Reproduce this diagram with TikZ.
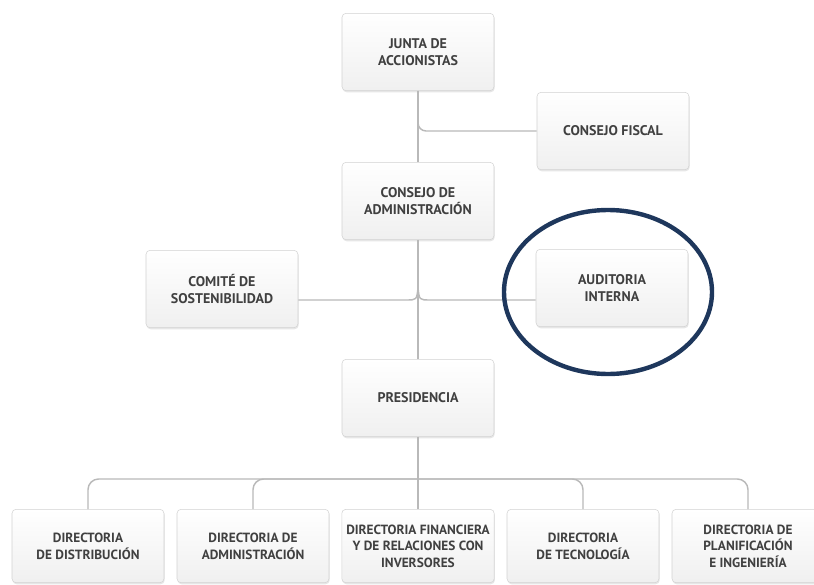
\documentclass[tikz,border=0pt]{standalone}
\usepackage{fontspec}
\setmainfont{PT Sans}
\usetikzlibrary{shadows}
\definecolor{marco}{RGB}{30,55,92}
\tikzset{
  caja/.style={rounded corners=3pt, draw=gray!35, top color=white, bottom color=gray!12,
    drop shadow={opacity=0.2, shadow xshift=0.5pt, shadow yshift=-1.2pt},
    minimum width=114pt, minimum height=58pt, align=center,
    font=\bfseries\fontsize{10.5}{12.5}\selectfont, text=black!75},
  enlace/.style={draw=gray!55, line width=1.1pt},
}
\begin{document}
\begin{tikzpicture}[x=0.75pt, y=-0.75pt]
  \useasboundingbox (0,0) rectangle (814,585);
  % niveles superiores
  \node[caja] (junta) at (418,52) {JUNTA DE\\ACCIONISTAS};
  \node[caja] (fiscal) at (613,131) {CONSEJO FISCAL};
  \node[caja] (cadmin) at (418,201) {CONSEJO DE\\ADMINISTRACIÓN};
  \node[caja] (comite) at (222,289) {COMITÉ DE\\SOSTENIBILIDAD};
  \node[caja] (audit) at (612,288) {AUDITORIA\\INTERNA};
  \node[caja] (presi) at (418,398) {PRESIDENCIA};
  % direcciones
  \foreach \x/\w [count=\i] in {88/{DIRECTORIA\\DE DISTRIBUCIÓN}, 253/{DIRECTORIA DE\\ADMINISTRACIÓN}, 418/{DIRECTORIA FINANCIERA\\Y DE RELACIONES CON\\INVERSORES}, 583/{DIRECTORIA\\DE TECNOLOGÍA}, 748/{DIRECTORIA DE\\PLANIFICACIÓN\\E INGENIERÍA}} {
    \node[caja, minimum height=55pt, font=\bfseries\fontsize{10}{12.5}\selectfont] (d\i) at (\x,546) {\w};
  }
  \coordinate (cruce) at (418,300);
  \coordinate (nudo) at (418,288);
  \coordinate (barra) at (418,479);
  \draw[enlace] (junta.south) -- (cadmin.north);
  \draw[enlace, rounded corners=6pt] (junta.south) |- (fiscal.west);
  \draw[enlace] (cadmin.south) -- (presi.north);
  \draw[enlace] (comite.east |- cruce) -- ([xshift=-9pt]cruce) .. controls ([xshift=-1pt]cruce) .. (nudo) .. controls ([xshift=1pt]cruce) .. ([xshift=9pt]cruce) -- (audit.west |- cruce);
  \draw[enlace] (presi.south) -- (d3.north);
  \draw[enlace, rounded corners=8pt] (d1.north) |- (barra) -| (d5.north);
  \draw[enlace, rounded corners=8pt] (d2.north) |- (barra) -| (d4.north);
  \draw[marco, line width=3.3pt] (608,292) ellipse [x radius=78pt, y radius=61.5pt];
\end{tikzpicture}
\end{document}
